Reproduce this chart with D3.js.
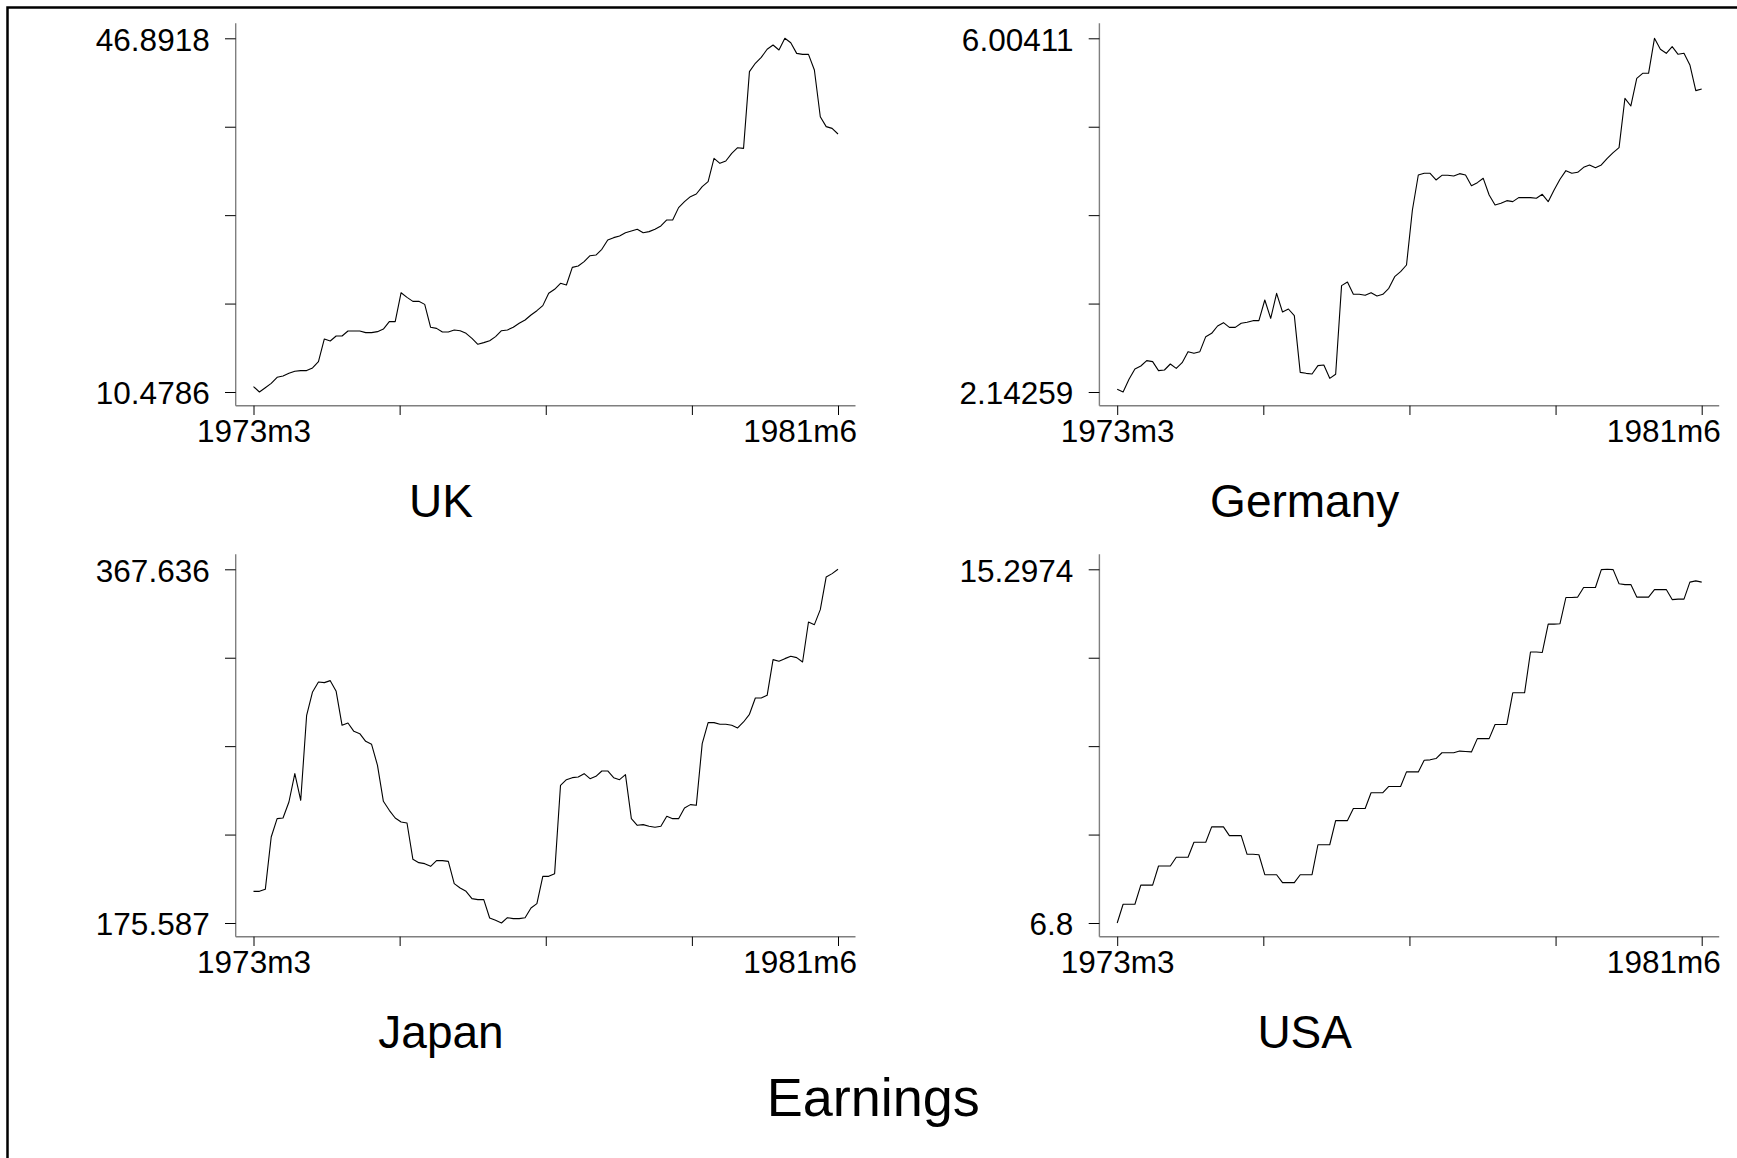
<!DOCTYPE html>
<html>
<head>
<meta charset="utf-8">
<script src="https://cdn.jsdelivr.net/npm/d3@7"></script>
<style>
  html, body { margin: 0; padding: 0; background: #fff; }
  svg { display: block; font-family: "Liberation Sans", Arial, Helvetica, sans-serif; }
</style>
</head>
<body>
<svg id="chart" width="1737" height="1158"></svg>
<script>
// Monthly observations, 1973m3 .. 1981m6 (100 months)
const months = d3.range(100);
const xTickLabels = ["1973m3", "1981m6"];
const countries = ["UK", "Germany", "Japan", "USA"];
const chartTitle = "Earnings";

const uk = [
  11.03, 10.4786, 10.92, 11.37, 11.99, 12.13, 12.40, 12.61, 12.68, 12.68,
  12.95, 13.60, 15.94, 15.73, 16.24, 16.24, 16.76, 16.76, 16.76, 16.59,
  16.59, 16.69, 16.96, 17.72, 17.72, 20.70, 20.22, 19.81, 19.81, 19.50,
  17.14, 17.03, 16.66, 16.66, 16.86, 16.79, 16.52, 16.00, 15.39, 15.56,
  15.76, 16.18, 16.79, 16.86, 17.14, 17.55, 17.89, 18.41, 18.85, 19.37,
  20.64, 21.05, 21.67, 21.49, 23.31, 23.45, 23.90, 24.51, 24.58, 25.17,
  26.13, 26.37, 26.54, 26.88, 27.05, 27.23, 26.88, 26.99, 27.23, 27.57,
  28.19, 28.19, 29.46, 30.07, 30.59, 30.86, 31.62, 32.13, 34.53, 34.02,
  34.26, 35.05, 35.63, 35.56, 43.46, 44.32, 44.93, 45.76, 46.20, 45.69,
  46.8918, 46.44, 45.34, 45.24, 45.24, 43.63, 38.82, 37.80, 37.62, 37.04
];

const germany = [
  2.1717, 2.14259, 2.2809, 2.3937, 2.4265, 2.4847, 2.4738, 2.3755, 2.3828, 2.4483,
  2.4010, 2.4629, 2.5830, 2.5648, 2.5830, 2.7467, 2.7831, 2.8632, 2.8996, 2.8486,
  2.8486, 2.8923, 2.9032, 2.9214, 2.9214, 3.1471, 2.9469, 3.2199, 3.0161, 3.0488,
  2.9760, 2.3573, 2.3464, 2.3391, 2.4301, 2.4374, 2.2918, 2.3355, 3.3036, 3.3436,
  3.2090, 3.2090, 3.1980, 3.2271, 3.1907, 3.2090, 3.2745, 3.4019, 3.4565, 3.5292,
  4.1297, 4.5119, 4.5301, 4.5301, 4.4573, 4.5083, 4.5083, 4.5010, 4.5265, 4.5119,
  4.3955, 4.4282, 4.4755, 4.2936, 4.1844, 4.2026, 4.2317, 4.2208, 4.2644, 4.2644,
  4.2644, 4.2571, 4.3008, 4.2208, 4.3481, 4.4646, 4.5592, 4.5301, 4.5410, 4.5956,
  4.6211, 4.5920, 4.6211, 4.6939, 4.7557, 4.8103, 5.3490, 5.2653, 5.5674, 5.6220,
  5.6220, 6.00411, 5.8840, 5.8403, 5.9131, 5.8294, 5.8403, 5.7129, 5.4327, 5.4509
];

const japan = [
  192.78, 192.78, 193.87, 222.29, 232.24, 232.61, 241.29, 256.68, 242.20, 288.36,
  301.03, 306.46, 306.10, 307.18, 301.39, 282.93, 284.19, 279.67, 278.40, 274.24,
  272.61, 261.21, 241.66, 236.77, 232.61, 230.43, 229.89, 210.16, 208.35, 207.81,
  206.36, 209.44, 209.44, 209.07, 196.95, 194.59, 192.78, 188.80, 188.26, 188.26,
  178.30, 177.04, 175.587, 178.48, 177.94, 177.94, 178.48, 183.73, 186.09, 200.93,
  200.93, 202.38, 250.35, 253.42, 254.51, 254.87, 256.68, 253.97, 255.23, 258.13,
  258.13, 254.51, 253.42, 256.14, 232.24, 228.62, 228.99, 228.08, 227.54, 228.08,
  233.51, 232.24, 232.24, 238.04, 239.85, 239.48, 272.97, 284.37, 284.37, 283.47,
  283.47, 282.93, 281.48, 284.74, 288.90, 297.77, 297.77, 299.22, 318.59, 317.68,
  319.13, 320.40, 319.67, 317.32, 339.04, 337.59, 345.74, 363.48, 365.29, 367.636
];

const usa = [
  6.8, 7.25, 7.25, 7.25, 7.71, 7.71, 7.71, 8.17, 8.17, 8.17,
  8.38, 8.38, 8.38, 8.74, 8.74, 8.74, 9.11, 9.11, 9.11, 8.90,
  8.90, 8.90, 8.45, 8.45, 8.44, 7.96, 7.96, 7.96, 7.77, 7.77,
  7.77, 7.96, 7.96, 7.96, 8.68, 8.68, 8.68, 9.26, 9.26, 9.26,
  9.55, 9.55, 9.55, 9.93, 9.93, 9.93, 10.08, 10.08, 10.08, 10.43,
  10.43, 10.43, 10.71, 10.72, 10.75, 10.89, 10.89, 10.89, 10.93, 10.92,
  10.91, 11.23, 11.23, 11.23, 11.57, 11.57, 11.57, 12.33, 12.33, 12.33,
  13.31, 13.31, 13.30, 13.98, 13.98, 13.99, 14.62, 14.62, 14.63, 14.86,
  14.86, 14.86, 15.29, 15.2974, 15.29, 14.95, 14.93, 14.93, 14.63, 14.63,
  14.63, 14.81, 14.81, 14.81, 14.57, 14.58, 14.58, 14.99, 15.02, 14.99
];

const series = [uk, germany, japan, usa];

const W = 1737, H = 1158;
const svg = d3.select("#chart");

svg.append("rect").attr("width", W).attr("height", H).attr("fill", "#fff");
// frame lines along the top and left edges
svg.append("path")
  .attr("d", `M7.5,${H} V7.5 H${W}`)
  .attr("fill", "none").attr("stroke", "#000").attr("stroke-width", 2.5);

// panel geometry (per panel, before offset)
const colStep = 863.7, rowStep = 531;
const axisX = 235.7, axisY = 405.7, axisTop = 23.3, axisRight = 855.5;
const plotLeft = 253.5, plotRight = 838, plotTop = 38.3, plotBottom = 392;
const labelFont = 31.5;

countries.forEach((name, k) => {
  const vals = series[k];
  const g = svg.append("g")
    .attr("transform", `translate(${(k % 2) * colStep},${Math.floor(k / 2) * rowStep})`);

  const x = d3.scaleLinear().domain([0, months.length - 1]).range([plotLeft, plotRight]);
  const ext = d3.extent(vals);
  const y = d3.scaleLinear().domain(ext).range([plotBottom, plotTop]);

  // axis lines
  g.append("line")
    .attr("x1", axisX).attr("x2", axisX).attr("y1", axisTop).attr("y2", axisY)
    .attr("stroke", "#7f7f7f").attr("stroke-width", 1.4);
  g.append("line")
    .attr("x1", axisX).attr("x2", axisRight).attr("y1", axisY).attr("y2", axisY)
    .attr("stroke", "#7f7f7f").attr("stroke-width", 1.4);

  // y axis: five evenly spaced ticks, only the extremes labelled
  const yTicks = d3.range(5).map(i => ext[0] + i * (ext[1] - ext[0]) / 4);
  const yAxis = d3.axisLeft(y)
    .tickValues(yTicks)
    .tickSize(10.7)
    .tickPadding(15.3)
    .tickFormat((d, i) => i === 0 ? String(ext[0]) : (i === 4 ? String(ext[1]) : ""));
  const gy = g.append("g").attr("transform", `translate(${axisX},0)`).call(yAxis);
  gy.select(".domain").remove();
  gy.attr("font-size", labelFont).attr("font-family", null);
  gy.selectAll(".tick line").attr("stroke", "#000").attr("stroke-width", 1);
  gy.selectAll(".tick text").attr("fill", "#000").attr("dy", "0.38em");

  // x axis: quarter ticks over the sample, endpoints labelled
  const n = months.length - 1;
  const xTicks = d3.range(5).map(i => i * n / 4);
  const xAxis = d3.axisBottom(x)
    .tickValues(xTicks)
    .tickSize(9.3)
    .tickFormat((d, i) => i === 0 ? xTickLabels[0] : (i === 4 ? xTickLabels[1] : ""));
  const gx = g.append("g").attr("transform", `translate(0,${axisY})`).call(xAxis);
  gx.select(".domain").remove();
  gx.attr("font-size", labelFont).attr("font-family", null);
  gx.selectAll(".tick line").attr("stroke", "#000").attr("stroke-width", 1);
  gx.selectAll(".tick text").attr("fill", "#000").attr("y", 36.6).attr("dy", 0);
  gx.selectAll(".tick text").filter((d, i) => i === 4)
    .attr("text-anchor", "end")
    .attr("x", axisRight - x(n) + 1);

  // series line
  const line = d3.line().x((d, i) => x(months[i])).y(d => y(d));
  g.append("path")
    .datum(vals)
    .attr("d", line)
    .attr("fill", "none")
    .attr("stroke", "#000")
    .attr("stroke-width", 1.1)
    .attr("stroke-linejoin", "round");

  // panel caption
  g.append("text")
    .attr("x", 441).attr("y", 516.7)
    .attr("text-anchor", "middle")
    .attr("font-size", 46)
    .attr("fill", "#000")
    .text(name);
});

svg.append("text")
  .attr("x", 873.3).attr("y", 1115.7)
  .attr("text-anchor", "middle")
  .attr("font-size", 54)
  .attr("fill", "#000")
  .text(chartTitle);
</script>
</body>
</html>
